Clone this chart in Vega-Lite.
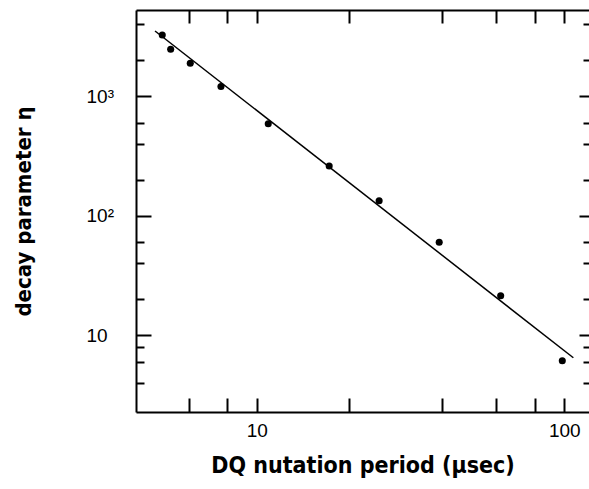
{
  "$schema": "https://vega.github.io/schema/vega-lite/v6.json",
  "width": 453,
  "height": 402,
  "autosize": "none",
  "padding": {"left": 136, "top": 10, "right": 0, "bottom": 77},
  "background": "white",
  "config": {
    "view": {"stroke": null},
    "axis": {
      "grid": false,
      "domainColor": "black",
      "domainWidth": 2,
      "tickColor": "black",
      "tickWidth": 2,
      "labelFont": "Liberation Sans",
      "labelFontSize": 19,
      "labelColor": "black",
      "titleFont": "DejaVu Sans Condensed",
      "titleFontWeight": "bold",
      "titleColor": "black",
      "labelOverlap": false,
      "labelFlush": false
    }
  },
  "layer": [
    {
      "data": {
        "values": [
          {"period": 4.93, "eta": 3240},
          {"period": 5.25, "eta": 2460},
          {"period": 6.08, "eta": 1880},
          {"period": 7.65, "eta": 1200},
          {"period": 10.9, "eta": 586},
          {"period": 17.2, "eta": 260},
          {"period": 25.0, "eta": 133},
          {"period": 39.2, "eta": 59.7},
          {"period": 62.1, "eta": 21.3},
          {"period": 98.5, "eta": 6.1}
        ]
      },
      "mark": {"type": "point", "filled": true, "color": "black", "size": 50, "opacity": 1},
      "encoding": {
        "x": {
          "field": "period",
          "type": "quantitative",
          "scale": {"type": "log", "domain": [4.05, 120.3], "nice": false, "zero": false},
          "axis": {
            "orient": "bottom",
            "values": [6, 8, 10, 20, 40, 60, 80, 100],
            "labelExpr": "datum.value == 10 || datum.value == 100 ? datum.value : ''",
            "tickSize": -14,
            "labelPadding": 23,
            "title": "DQ nutation period (μsec)",
            "titleFontSize": 23,
            "titlePadding": 14
          }
        },
        "y": {
          "field": "eta",
          "type": "quantitative",
          "scale": {"type": "log", "domain": [2.27, 5245], "nice": false, "zero": false},
          "axis": {
            "orient": "left",
            "values": [4, 6, 8, 10, 20, 40, 60, 100, 200, 400, 600, 1000, 2000, 4000],
            "labelExpr": "datum.value == 1000 ? '10³' : datum.value == 100 ? '10²' : datum.value == 10 ? '10' : ''",
            "tickSize": {"condition": {"test": "datum.value == 10 || datum.value == 100 || datum.value == 1000", "value": -15}, "value": -8},
            "labelAlign": "left",
            "labelPadding": 65,
            "title": "decay parameter η",
            "titleFontSize": 22,
            "titlePadding": 44
          }
        }
      }
    },
    {
      "data": {
        "values": [
          {"period": 4.67, "eta": 3500},
          {"period": 107, "eta": 6.46}
        ]
      },
      "mark": {"type": "line", "color": "black", "strokeWidth": 1.5},
      "encoding": {
        "x": {
          "field": "period",
          "type": "quantitative",
          "scale": {"type": "log", "domain": [4.05, 120.3], "nice": false, "zero": false},
          "axis": {
            "orient": "top",
            "values": [6, 8, 10, 20, 40, 60, 80, 100],
            "labels": false,
            "tickSize": -13,
            "title": null
          }
        },
        "y": {
          "field": "eta",
          "type": "quantitative",
          "scale": {"type": "log", "domain": [2.27, 5245], "nice": false, "zero": false},
          "axis": {
            "orient": "right",
            "values": [4, 6, 8, 10, 20, 40, 60, 100, 200, 400, 600, 1000, 2000, 4000],
            "labels": false,
            "domain": false,
            "tickSize": {"condition": {"test": "datum.value == 10 || datum.value == 100 || datum.value == 1000", "value": -10}, "value": -6},
            "title": null
          }
        }
      }
    }
  ],
  "resolve": {"axis": {"x": "independent", "y": "independent"}}
}
